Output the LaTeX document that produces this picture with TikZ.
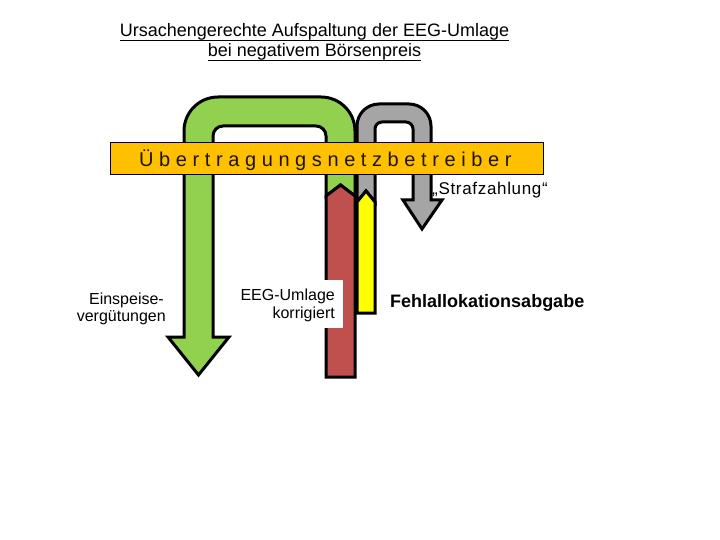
\documentclass[tikz,border=0pt]{standalone}
\usepackage{fontspec}
\setmainfont{Liberation Sans}
\definecolor{cgreen}{HTML}{92D050}
\definecolor{cgray}{HTML}{A5A5A5}
\definecolor{cred}{HTML}{C0504D}
\definecolor{cyellow}{HTML}{FFFF00}
\definecolor{corange}{HTML}{FFC000}
\definecolor{cbandtxt}{HTML}{1E1400}
\begin{document}
\begin{tikzpicture}[x=1pt,y=-1pt,
  flow/.style={draw=black,line width=3pt,line join=miter},
  lbl/.style={inner sep=0pt,font=\fontsize{16}{18}\selectfont}]
\useasboundingbox (0,0) rectangle (720,540);
% green U-arrow
\path[flow,fill=cgreen] (198.5,375) -- (229,337) -- (213,337)
  [rounded corners=10pt] -- (213,126) -- (326,126) [sharp corners] -- (326,196)
  -- (340.5,185) -- (355,196)
  [rounded corners=34pt] -- (355,97) -- (184,97) [sharp corners] -- (184,337)
  -- (168,337) -- cycle;
% gray U-arrow
\path[flow,fill=cgray] (422,229) -- (442,200) -- (431,200)
  [rounded corners=22pt] -- (431,104) -- (357,104) [sharp corners] -- (357,202)
  -- (366,191) -- (375,202)
  [rounded corners=7pt] -- (375,122) -- (413,122) [sharp corners] -- (413,200)
  -- (403,200) -- cycle;
% band
\node[draw=black,line width=0.8pt,fill=corange,minimum width=433pt,minimum height=32pt,inner sep=0pt,anchor=north west] (band) at (110,142) {};
\node[inner sep=0pt,anchor=base west,text=cbandtxt,font=\fontsize{20}{22}\selectfont\addfontfeature{LetterSpace=28}] (bandtxt) at (139,167) {Übertragungsnetzbetreiber};
% red and yellow bars
\path[flow,fill=cred] (326,196) -- (340.5,185) -- (355,196) -- (355,377) -- (326,377) -- cycle;
\path[flow,fill=cyellow] (357,202) -- (366,191) -- (375,202) -- (375,313) -- (357,313) -- cycle;
% white label box
\node[fill=white,inner sep=0pt,minimum width=106pt,minimum height=48pt,anchor=north west] (wbox) at (237,280) {};
% title
\node[inner sep=0pt,anchor=base,font=\fontsize{18}{20}\selectfont] (t1) at (314.5,37) {Ursachengerechte Aufspaltung der EEG-Umlage};
\node[inner sep=0pt,anchor=base,font=\fontsize{18}{20}\selectfont] (t2) at (314.5,57) {bei negativem Börsenpreis};
\draw[line width=1.2pt] ([yshift=-3.5pt]t1.base west) -- ([yshift=-3.5pt]t1.base east);
\draw[line width=1.2pt] ([yshift=-3.5pt]t2.base west) -- ([yshift=-3.5pt]t2.base east);
% labels
\node[lbl,anchor=base east] (e1) at (164,304) {Einspeise-};
\node[lbl,anchor=base east] (e2) at (166,321) {vergütungen};
\node[lbl,anchor=base east] (k1) at (335,300.5) {EEG-Umlage};
\node[lbl,anchor=base east] (k2) at (335,318) {korrigiert};
\node[inner sep=0pt,anchor=base west,font=\fontsize{18}{20}\selectfont\bfseries] (fa) at (390,307) {Fehlallokationsabgabe};
\node[inner sep=0pt,anchor=base west,font=\fontsize{17}{19}\selectfont\addfontfeature{LetterSpace=4}] (sz) at (432,195) {„Strafzahlung“};
\end{tikzpicture}
\end{document}
